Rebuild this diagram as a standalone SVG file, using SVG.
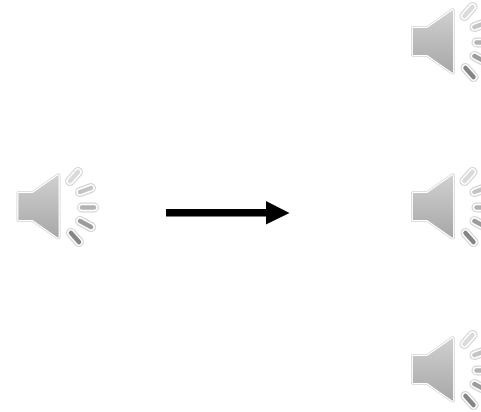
<svg xmlns="http://www.w3.org/2000/svg" width="481" height="412" viewBox="0 0 481 412">
<style>
.halo{fill:none;stroke:#d6d6d6;stroke-linecap:round;stroke-width:10}
.edge{fill:none;stroke:#fff;stroke-linecap:round;stroke-width:7.500}
.core{fill:none;stroke-linecap:round;stroke-width:4.500}
</style>
<defs>
<linearGradient id="b" gradientUnits="userSpaceOnUse" x1="0" y1="175" x2="0" y2="237"><stop offset="0" stop-color="#d0d0d0"/><stop offset="1" stop-color="#a8a8a8"/></linearGradient>
<g id="speaker">
<path d="M19 193.500H33L58 176V237L33 219.500H19Z" fill="none" stroke="#d4d4d4" stroke-width="5" stroke-linejoin="round"/>
<path d="M19 193.500H33L58 176V237L33 219.500H19Z" fill="#fff" stroke="#fff" stroke-width="3.500" stroke-linejoin="round"/>
<path d="M19 193.500H33L58 176V237L33 219.500H19Z" fill="url(#b)" stroke="url(#b)" stroke-width="1.200" stroke-linejoin="round"/>
<g transform="translate(0 1)">
<path class="halo" d="M70 180L78 171"/><path class="edge" d="M70 180L78 171"/><path class="core" stroke="#dadada" d="M70 180L78 171"/>
<path class="halo" d="M80 191L91 187"/><path class="edge" d="M80 191L91 187"/><path class="core" stroke="#c4c4c4" d="M80 191L91 187"/>
<path class="halo" d="M82 206.500H94"/><path class="edge" d="M82 206.500H94"/><path class="core" stroke="#b2b2b2" d="M82 206.500H94"/>
<path class="halo" d="M80 220L91 226"/><path class="edge" d="M80 220L91 226"/><path class="core" stroke="#9c9c9c" d="M80 220L91 226"/>
<path class="halo" d="M71 232L79 241"/><path class="edge" d="M71 232L79 241"/><path class="core" stroke="#868686" d="M71 232L79 241"/>
</g>
</g>
</defs>
<g id="source"><use href="#speaker"/></g>
<g id="output-top"><use href="#speaker" x="394.500" y="-165"/></g>
<g id="output-middle"><use href="#speaker" x="394.500" y="0"/></g>
<g id="output-bottom"><use href="#speaker" x="394.500" y="163"/></g>
<g id="connectors">
<path d="M166 209H266V201L289.500 213L266 224.500V216.500H166Z" fill="#000"/>
</g>
</svg>
